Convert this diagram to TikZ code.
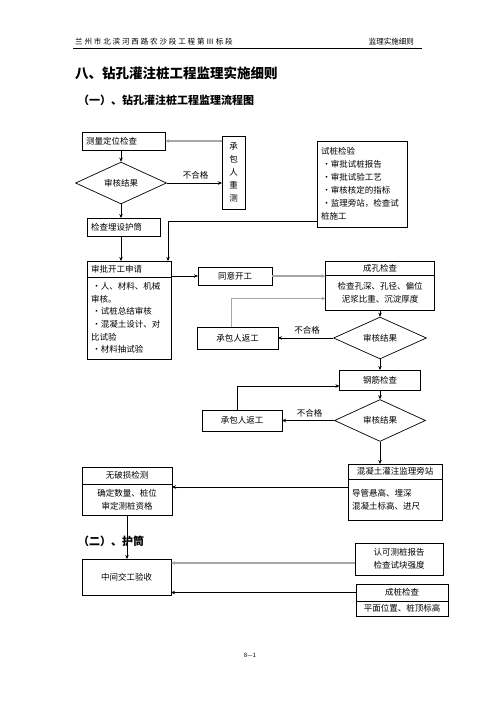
\documentclass[tikz,border=0pt]{standalone}
\usepackage{fontspec}
\setmainfont{Noto Sans CJK SC}
\usetikzlibrary{shapes.geometric, arrows.meta, positioning}

\newcommand{\boxfont}{\fontsize{8.5}{12.8}\selectfont}

\begin{document}
\begin{tikzpicture}[
    x=1pt, y=-1pt,
    font=\boxfont,
    box/.style={rectangle, draw, line width=0.7pt, outer sep=0pt,
                inner xsep=4pt, inner ysep=1pt, align=center},
    lbox/.style={box, align=left, text width=#1},
    dia/.style={diamond, draw, line width=0.7pt, inner sep=0pt,
                minimum width=91pt, minimum height=33pt},
    arr/.style={-{Stealth[length=4pt, width=3.5pt]}, line width=0.8pt},
    garr/.style={arr, draw=gray!70, line width=1.3pt},
    lbl/.style={above=3pt, inner sep=0pt}
]
\fill[white] (0,0) rectangle (496,702);
\useasboundingbox (0,0) rectangle (496,702);

% page header and titles
\node[anchor=west, inner sep=0pt,
      font=\fontsize{7.5}{9}\selectfont\addfontfeatures{LetterSpace=25}]
    (headl) at (75,42) {兰州市北滨河西路农沙段工程第Ⅲ标段};
\node[anchor=east, inner sep=0pt, font=\fontsize{7.5}{9}\selectfont]
    (headr) at (414,42) {监理实施细则};
\coordinate (rulel) at (73,48);
\coordinate (ruler) at (422,48);
\draw[line width=0.8pt] (rulel) -- (ruler);

\node[anchor=west, inner sep=0pt, font=\fontsize{13.5}{16}\selectfont\bfseries]
    (title) at (75,73) {八、钻孔灌注桩工程监理实施细则};
\node[anchor=west, inner sep=0pt, font=\fontsize{11}{13}\selectfont\bfseries]
    (sub1) at (78,100) {（一）、钻孔灌注桩工程监理流程图};
\node[anchor=west, inner sep=0pt, font=\fontsize{11}{13}\selectfont\bfseries]
    (sub2) at (78,541) {（二）、护筒};

% surveying and casing
\node[lbox=75pt, minimum height=18pt, anchor=west]
    (celiang) at (82,141) {测量定位检查};
\node[box, text width=15pt, minimum height=73pt, anchor=north,
      font=\fontsize{8.5}{13}\selectfont]
    (chongce) at (233.5,136) {承\\包\\人\\重\\测};
\node[dia] (shenhe1) at (121,183) {审核结果};
\node[lbox=65pt, minimum height=18pt, anchor=west]
    (maishe) at (87,227) {检查埋设护筒};

\node[lbox=82pt, minimum height=86pt, anchor=north west,
      font=\fontsize{8.5}{13}\selectfont]
    (shizhuang) at (317,141) {试桩检验\\
    \,•审批试桩报告\\
    \,•审批试验工艺\\
    \,•审核核定的指标\\
    \,•监理旁站，检查试\\
    桩施工};

% approval
\node[lbox=76pt, minimum height=16pt, anchor=north west]
    (sph) at (87,261) {审批开工申请};
\node[lbox=76pt, minimum height=82pt, below=0pt of sph,
      font=\fontsize{8.5}{12.7}\selectfont]
    (spb) {\,•人、材料、机械\\
    审核。\\
    \,•试桩总结审核\\
    \,•混凝土设计、对\\
    比试验\\
    \,•材料抽试验};
\node[box, minimum width=74pt, minimum height=18pt]
    (tongyi) at (235,276) {同意开工};

% hole inspection
\node[box, minimum width=109pt, minimum height=14pt, anchor=north]
    (ckh) at (380,261) {成孔检查};
\node[box, minimum width=109pt, minimum height=35pt, below=0pt of ckh]
    (ckb) {检查孔深、孔径、偏位\\泥浆比重、沉淀厚度};
\node[dia, minimum width=93pt, minimum height=35pt]
    (shenhe2) at (380,338) {审核结果};
\node[box, minimum width=81pt, minimum height=22pt]
    (fg1) at (237.5,338) {承包人返工};

% reinforcement
\node[box, minimum width=81pt, minimum height=20pt]
    (gj) at (380,380) {钢筋检查};
\node[dia] (shenhe3) at (380,420.5) {审核结果};
\node[box, minimum width=80pt, minimum height=21pt]
    (fg2) at (242,420.5) {承包人返工};

% concreting and testing
\node[box, minimum width=94pt, minimum height=15pt, anchor=north west]
    (gzh) at (348,464) {混凝土灌注监理旁站};
\node[lbox=86pt, minimum height=41pt, below=0pt of gzh]
    (gzb) {导管悬高、埋深\\混凝土标高、进尺};
\node[box, minimum width=90pt, minimum height=17pt, anchor=north west]
    (wsh) at (82,467) {无破损检测};
\node[box, minimum width=90pt, minimum height=31pt, below=0pt of wsh]
    (wsb) {确定数量、桩位\\审定测桩资格};

% acceptance
\node[box, minimum width=89pt, minimum height=36pt]
    (zj) at (126.5,577) {中间交工验收};
\node[box, minimum width=88pt, minimum height=32pt]
    (rk) at (399,559) {认可测桩报告\\检查试块强度};
\node[box, minimum width=92pt, minimum height=17pt, anchor=north west]
    (czh) at (356,584) {成桩检查};
\node[box, minimum width=92pt, minimum height=15pt, below=0pt of czh]
    (czb) {平面位置、桩顶标高};

\node[font=\fontsize{6}{7}\selectfont, inner sep=0pt]
    (pageno) at (250,655) {8—1};

% connectors
\coordinate (szout) at ([yshift=6pt]shizhuang.south west);
\coordinate (spin)  at ([xshift=-3pt]sph.north east);
\coordinate (gzout) at ([yshift=-8pt]gzb.north west);
\coordinate (rkout) at ([yshift=-4pt]rk.west);

\draw[garr] (celiang.east -| chongce.west) -- (celiang.east);
\draw[arr] (shenhe1.north |- celiang.south) -- (shenhe1.north);
\draw[arr] (shenhe1.east) -- node[lbl, pos=0.52]{不合格} (shenhe1.east -| chongce.west);
\draw[arr] (shenhe1.south) -- (shenhe1.south |- maishe.north);
\draw[arr] (shenhe1.south |- maishe.south) -- (shenhe1.south |- sph.north);
\draw[arr] (szout) -| (spin);

\draw[arr] (tongyi.west -| sph.east) -- (tongyi.west);
\draw[garr] (tongyi.east) -- (tongyi.east -| ckh.west);
\draw[arr] (ckb.south) -- (shenhe2.north);
\draw[arr] (shenhe2.west) -- node[lbl, pos=0.47]{不合格} (fg1.east);
\draw[garr] ([xshift=-6pt]fg1.north) |- ([yshift=-6pt]ckb.west);

\draw[arr] (shenhe2.south) -- (gj.north);
\draw[arr] (gj.south) -- (shenhe3.north);
\draw[arr] (shenhe3.west) -- node[lbl, pos=0.47]{不合格} (fg2.east);
\draw[arr] ([xshift=-5pt]fg2.north) |- ([yshift=-6pt]gj.west);
\draw[arr] (shenhe3.south) -- (shenhe3.south |- gzh.north);

\draw[arr] (gzout) -- (gzout -| wsb.east);
\draw[arr] (wsb.south) -- (wsb.south |- zj.north);
\draw[garr] (rkout) -- (rkout -| zj.east);
\draw[arr] (czh.west) -- (czh.west -| zj.east);
\end{tikzpicture}
\end{document}
